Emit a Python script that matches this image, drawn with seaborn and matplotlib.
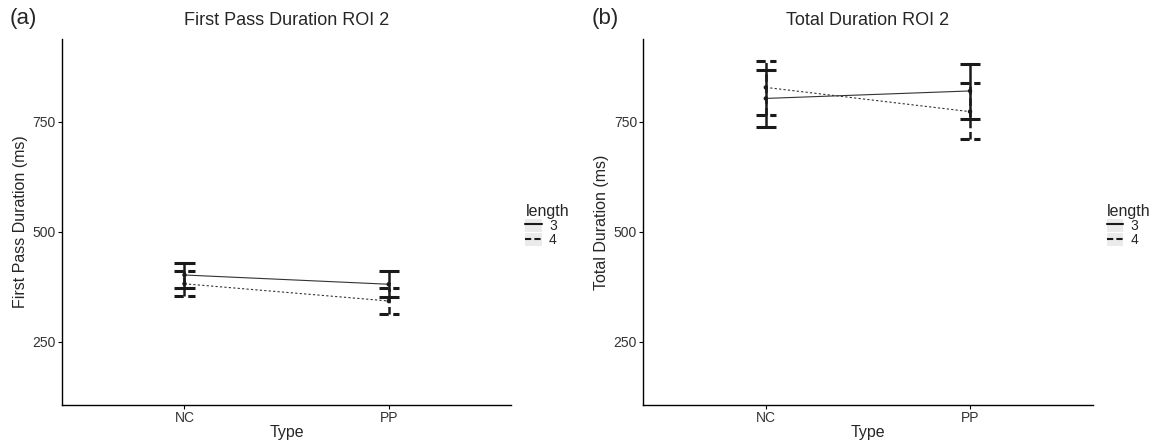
import matplotlib.pyplot as plt
import numpy as np
import pandas as pd
import seaborn as sns
from matplotlib.legend_handler import HandlerTuple
from matplotlib.lines import Line2D
from matplotlib.patches import Rectangle

types = ["NC", "PP"]
lengths = ["3", "4"]

# first pass duration ROI 2 (ms)
fp_mean_3 = [402, 381]
fp_lo_3 = [373, 352]
fp_hi_3 = [430, 410]
fp_mean_4 = [382, 343]
fp_lo_4 = [355, 314]
fp_hi_4 = [410, 373]

# total duration ROI 2 (ms)
tot_mean_3 = [803, 820]
tot_lo_3 = [737, 757]
tot_hi_3 = [867, 882]
tot_mean_4 = [828, 773]
tot_lo_4 = [766, 710]
tot_hi_4 = [889, 837]


def make_df(m3, lo3, hi3, m4, lo4, hi4):
    rows = []
    for ln, m, lo, hi in [("3", m3, lo3, hi3), ("4", m4, lo4, hi4)]:
        for i, t in enumerate(types):
            rows.append({"Type": t, "pos": i, "length": ln,
                         "mean": m[i], "lo": lo[i], "hi": hi[i]})
    return pd.DataFrame(rows)


sns.set_theme(style="ticks")
plt.rcParams["font.family"] = ["Liberation Sans", "DejaVu Sans"]

bar_dash = {"3": "-", "4": (0, (3, 1.5))}


def draw_panel(fig, rect, df, title, ylabel, tag):
    ax = fig.add_axes(rect)
    sns.lineplot(data=df, x="pos", y="mean", style="length",
                 dashes={"3": "", "4": (2, 2)}, color="#333333",
                 linewidth=0.8, legend=False, ax=ax)
    for ln, sub in df.groupby("length"):
        ls = bar_dash[ln]
        ax.vlines(sub["pos"], sub["lo"], sub["hi"], colors="#1a1a1a",
                  linestyles=ls, linewidth=1.8, zorder=3)
        for col in ["lo", "hi"]:
            ax.hlines(sub[col], sub["pos"] - 0.05, sub["pos"] + 0.05,
                      colors="#1a1a1a", linestyles=ls, linewidth=2.2, zorder=3)
    sns.scatterplot(data=df, x="pos", y="mean", color="#1a1a1a", s=10,
                    edgecolor="none", legend=False, zorder=4, ax=ax)

    ax.set_xlim(-0.6, 1.6)
    ax.set_ylim(107, 938)
    ax.set_xticks(range(len(types)))
    ax.set_xticklabels(types)
    ax.set_yticks([250, 500, 750])
    ax.tick_params(labelsize=10, length=3, width=0.8, pad=1.5,
                   colors="black", labelcolor="#333333")
    for s in ["top", "right"]:
        ax.spines[s].set_visible(False)
    for s in ["left", "bottom"]:
        ax.spines[s].set_linewidth(1.0)
        ax.spines[s].set_color("black")
    ax.set_xlabel("Type", fontsize=11.5, labelpad=0)
    ax.set_ylabel(ylabel, fontsize=11.5, labelpad=3)
    ax.set_title(title, fontsize=13, pad=10)
    ax.grid(False)

    bg = dict(facecolor="#ebebeb", edgecolor="none")
    handles = [
        (Rectangle((0, 0), 1, 1, **bg),
         Line2D([], [], color="#1a1a1a", linewidth=1.5, linestyle="-")),
        (Rectangle((0, 0), 1, 1, **bg),
         Line2D([], [], color="#1a1a1a", linewidth=1.5,
                linestyle=(0, (3, 1.5)))),
    ]
    leg = ax.legend(handles, lengths, title="length", loc="center left",
                    bbox_to_anchor=(1.01, 0.49), frameon=False, fontsize=10,
                    title_fontsize=11.5, handlelength=1.2, handleheight=1.1,
                    handletextpad=0.5, labelspacing=0.0, borderaxespad=0.3,
                    handler_map={tuple: HandlerTuple(ndivide=1, pad=0)})
    leg._legend_box.align = "left"
    fig.text(rect[0] - 0.045, 0.935, tag, fontsize=16, ha="left", va="bottom")
    return ax


fig = plt.figure(figsize=(11.58, 4.43), dpi=100)

df_fp = make_df(fp_mean_3, fp_lo_3, fp_hi_3, fp_mean_4, fp_lo_4, fp_hi_4)
df_tot = make_df(tot_mean_3, tot_lo_3, tot_hi_3, tot_mean_4, tot_lo_4, tot_hi_4)

draw_panel(fig, [0.0535, 0.086, 0.388, 0.826], df_fp,
           "First Pass Duration ROI 2", "First Pass Duration (ms)", "(a)")
draw_panel(fig, [0.5555, 0.086, 0.388, 0.826], df_tot,
           "Total Duration ROI 2", "Total Duration (ms)", "(b)")

fig.savefig("out.png", dpi=100)
